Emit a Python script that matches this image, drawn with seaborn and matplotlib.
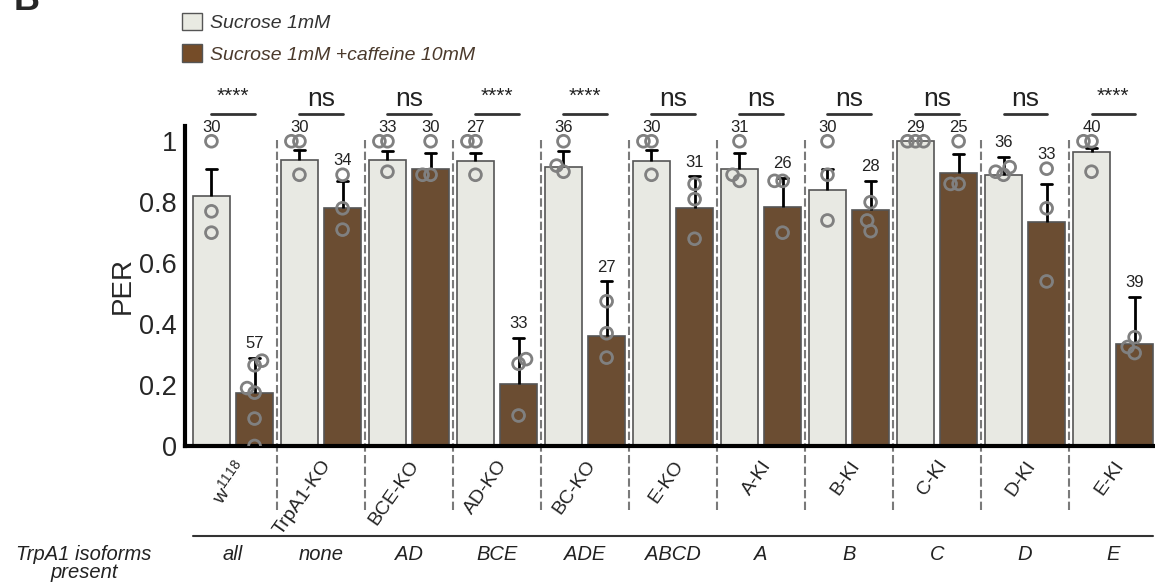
import numpy as np
import pandas as pd
import matplotlib
matplotlib.use('Agg')
import matplotlib.pyplot as plt
import seaborn as sns
from matplotlib.patches import Patch

# groups and isoforms
genotypes = ['w$^{\\mathit{1118}}$', 'TrpA1-KO', 'BCE-KO', 'AD-KO', 'BC-KO', 'E-KO',
             'A-KI', 'B-KI', 'C-KI', 'D-KI', 'E-KI']
isoforms = ['all', 'none', 'AD', 'BCE', 'ADE', 'ABCD', 'A', 'B', 'C', 'D', 'E']
conditions = ['Sucrose 1mM', 'Sucrose 1mM +caffeine 10mM']

# bar means and sem (upper error only)
per_suc = [0.82, 0.94, 0.94, 0.935, 0.915, 0.935, 0.91, 0.84, 1.0, 0.89, 0.965]
per_caf = [0.175, 0.78, 0.91, 0.205, 0.36, 0.78, 0.785, 0.775, 0.895, 0.735, 0.335]
sem_suc = [0.088, 0.03, 0.027, 0.025, 0.052, 0.035, 0.05, 0.07, 0.0, 0.058, 0.012]
sem_caf = [0.115, 0.09, 0.05, 0.15, 0.18, 0.105, 0.095, 0.095, 0.062, 0.125, 0.155]
n_suc = [30, 30, 33, 27, 36, 30, 31, 30, 29, 36, 40]
n_caf = [57, 34, 30, 33, 27, 31, 26, 28, 25, 33, 39]
sig = ['****', 'ns', 'ns', '****', '****', 'ns', 'ns', 'ns', 'ns', 'ns', '****']

# single trial values
pts_suc = [[1.0, 0.77, 0.70], [1.0, 1.0, 0.89], [1.0, 1.0, 0.90], [1.0, 1.0, 0.89],
           [1.0, 0.92, 0.90], [1.0, 1.0, 0.89], [1.0, 0.89, 0.87], [1.0, 0.89, 0.74],
           [1.0, 1.0, 1.0], [0.915, 0.90, 0.89], [1.0, 1.0, 0.90]]
pts_caf = [[0.28, 0.265, 0.19, 0.175, 0.09, 0.0], [0.89, 0.78, 0.71], [1.0, 0.89, 0.89],
           [0.285, 0.27, 0.10], [0.475, 0.37, 0.29], [0.86, 0.81, 0.68], [0.87, 0.87, 0.70],
           [0.80, 0.74, 0.705], [1.0, 0.86, 0.86], [0.91, 0.78, 0.54], [0.357, 0.325, 0.305]]

light = '#e9eae2'
brown = '#754c28'

sns.set_style('white')
plt.rcParams['font.family'] = ['Liberation Sans', 'DejaVu Sans']
plt.rcParams['mathtext.fontset'] = 'custom'
plt.rcParams['mathtext.rm'] = 'Liberation Sans'
plt.rcParams['mathtext.it'] = 'Liberation Sans:italic'

bars = pd.DataFrame({'genotype': genotypes * 2,
                     'condition': [conditions[0]] * 11 + [conditions[1]] * 11,
                     'per': per_suc + per_caf})
rows = []
for g, p1, p2 in zip(genotypes, pts_suc, pts_caf):
    rows += [(g, conditions[0], v) for v in p1]
    rows += [(g, conditions[1], v) for v in p2]
pts = pd.DataFrame(rows, columns=['genotype', 'condition', 'per'])

fig = plt.figure(figsize=(11.55, 5.82), dpi=100)
ax = fig.add_axes([0.1602, 0.2337, 0.8416, 0.5498])

sns.barplot(data=bars, x='genotype', y='per', hue='condition', order=genotypes,
            hue_order=conditions, palette=[light, brown], width=0.98, gap=0.14,
            edgecolor='#555555', linewidth=1.2, errorbar=None, legend=False, ax=ax)

c_suc = np.array([p.get_x() + p.get_width() / 2 for p in ax.containers[0]])
c_caf = np.array([p.get_x() + p.get_width() / 2 for p in ax.containers[1]])
bw = ax.containers[0][0].get_width()
bar_off = abs(c_suc[0] - 0)

ax.set_xlim(-0.545, 10.5)
ax.set_ylim(0, 1.05)

n_before = len(ax.collections)
sns.swarmplot(data=pts, x='genotype', y='per', hue='condition', order=genotypes,
              hue_order=conditions, dodge=True, palette=['#808080', '#808080'],
              size=8.5, legend=False, ax=ax, zorder=4)
ax.set_xlim(-0.545, 10.5)
ax.set_ylim(0, 1.05)
fig.canvas.draw()
for coll in ax.collections[n_before:]:
    if 'draw' in coll.__dict__:
        del coll.draw
    off = coll.get_offsets().copy()
    if len(off) == 0:
        continue
    x = off[:, 0]
    c = np.round(x)
    side = np.sign(x - c)
    d = x - (c + 0.2 * side)
    off[:, 0] = c + side * bar_off + 0.65 * d
    coll.set_offsets(off)
    coll.set_facecolor('none')
    coll.set_edgecolor('#808080')
    coll.set_linewidth(2)

# upper error bars
cap = bw * 0.14
for xs, m, s in [(c_suc, per_suc, sem_suc), (c_caf, per_caf, sem_caf)]:
    for xi, mi, si in zip(xs, m, s):
        if si <= 0:
            continue
        ax.plot([xi, xi], [mi, mi + si], color='black', lw=2, zorder=3, solid_capstyle='butt')
        ax.plot([xi - cap, xi + cap], [mi + si] * 2, color='black', lw=2, zorder=3)

# n labels
for xs, m, s, pp, nn in [(c_suc, per_suc, sem_suc, pts_suc, n_suc),
                         (c_caf, per_caf, sem_caf, pts_caf, n_caf)]:
    for xi, mi, si, p, n in zip(xs, m, s, pp, nn):
        top = max(max(p), mi + si)
        ax.text(xi, top + 0.022, str(n), ha='center', va='bottom', fontsize=12,
                color='#222222', clip_on=False)

# significance
for i, s in enumerate(sig):
    ax.plot([c_suc[i], c_caf[i]], [1.09, 1.09], color='#333333', lw=2, clip_on=False)
    if s == 'ns':
        ax.text((c_suc[i] + c_caf[i]) / 2, 1.1, s, ha='center', va='bottom',
                fontsize=19, color='#222222', clip_on=False)
    else:
        ax.text((c_suc[i] + c_caf[i]) / 2, 1.115, s, ha='center', va='bottom',
                fontsize=15, color='#222222', clip_on=False)

# group separators
ax.vlines(np.arange(len(genotypes) - 1) + 0.5, -0.21, 1.013, colors='#7a7a7a',
          linestyles=(0, (4, 1.6)), lw=1.5, clip_on=False, zorder=1)

# axes styling
sns.despine(ax=ax)
for sp in ['left', 'bottom']:
    ax.spines[sp].set_linewidth(3)
    ax.spines[sp].set_color('black')
ax.set_yticks([0, 0.2, 0.4, 0.6, 0.8, 1])
ax.set_yticklabels(['0', '0.2', '0.4', '0.6', '0.8', '1'], fontsize=19.5)
ax.tick_params(axis='y', direction='out', length=4, width=2.5, pad=2)
ax.set_ylabel('PER', fontsize=20, labelpad=2)
ax.set_xlabel('')
ax.set_xticks(range(len(genotypes)))
ax.set_xticklabels(genotypes, rotation=55, ha='right', va='top', rotation_mode='anchor',
                   fontsize=14, color='#222222')
ax.tick_params(axis='x', which='major', length=0, pad=8)
ax.set_xticks(np.concatenate([c_suc, c_caf]), minor=True)
ax.tick_params(axis='x', which='minor', length=3, width=3.5, color='black')

# isoform row
ax.plot([-0.454, 10.45], [-0.295, -0.295], color='#333333', lw=1.5, clip_on=False)
for i, iso in enumerate(isoforms):
    ax.text(i, -0.357, iso, ha='center', va='center', style='italic', fontsize=14.5,
            color='#222222', clip_on=False)
fig.text(0.0727, 0.032, 'TrpA1 isoforms\npresent', ha='center', va='center',
         style='italic', fontsize=14.5, color='#222222', linespacing=0.92)

# legend
handles = [Patch(facecolor=light, edgecolor='#555555', lw=1),
           Patch(facecolor=brown, edgecolor='#555555', lw=1)]
leg = fig.legend(handles, conditions, loc='upper left', bbox_to_anchor=(0.158, 0.978),
                 frameon=False, prop={'style': 'italic', 'size': 14}, handlelength=1.0,
                 handleheight=1.0, handletextpad=0.4, labelspacing=0.62,
                 borderpad=0, borderaxespad=0)
leg.get_texts()[0].set_color('#333333')
leg.get_texts()[1].set_color('#4b3a2c')

fig.text(0.012, 0.983, 'B', fontsize=26, fontweight='bold', va='baseline')

fig.savefig('out.png', dpi=100)
